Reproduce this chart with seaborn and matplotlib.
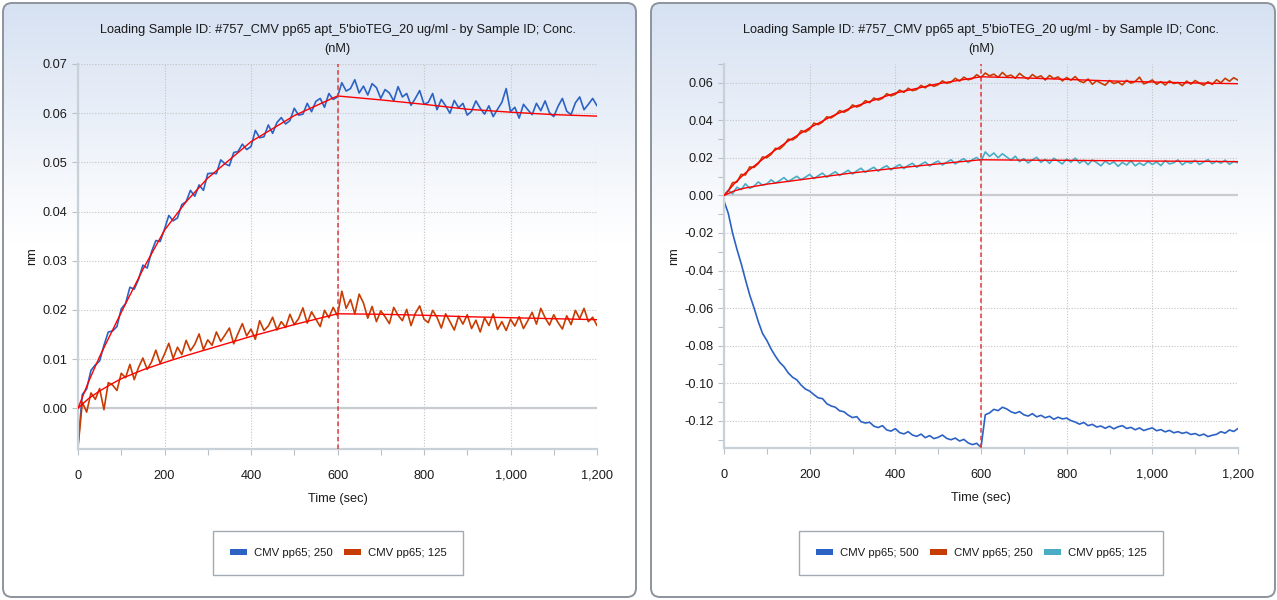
import numpy as np
import pandas as pd
import seaborn as sns
import matplotlib.pyplot as plt
from matplotlib.patches import FancyBboxPatch, Patch
from matplotlib.ticker import FuncFormatter, MultipleLocator

# %% data (10 s sampling)

time_s = list(range(0, 1201, 10))

# left panel
left_250 = [-0.0075, 0.0028, 0.0039, 0.0077, 0.0088, 0.0096, 0.0128, 0.0155, 0.0157, 0.0166,
            0.0202, 0.0213, 0.0246, 0.0242, 0.0262, 0.0291, 0.0285, 0.0318, 0.0341, 0.0339,
            0.0364, 0.0392, 0.0381, 0.0387, 0.0414, 0.0420, 0.0443, 0.0431, 0.0454, 0.0443,
            0.0477, 0.0478, 0.0477, 0.0505, 0.0497, 0.0493, 0.0520, 0.0522, 0.0537, 0.0526,
            0.0532, 0.0565, 0.0550, 0.0552, 0.0576, 0.0559, 0.0581, 0.0591, 0.0578, 0.0585,
            0.0610, 0.0596, 0.0598, 0.0620, 0.0603, 0.0624, 0.0630, 0.0612, 0.0640, 0.0628,
            0.0633, 0.0662, 0.0645, 0.0650, 0.0668, 0.0641, 0.0655, 0.0637, 0.0660, 0.0652,
            0.0630, 0.0648, 0.0641, 0.0625, 0.0654, 0.0633, 0.0640, 0.0616, 0.0630, 0.0646,
            0.0618, 0.0622, 0.0640, 0.0607, 0.0628, 0.0615, 0.0600, 0.0626, 0.0611, 0.0620,
            0.0596, 0.0604, 0.0625, 0.0610, 0.0598, 0.0615, 0.0593, 0.0608, 0.0622, 0.0650,
            0.0603, 0.0612, 0.0590, 0.0618, 0.0607, 0.0597, 0.0620, 0.0605, 0.0625, 0.0601,
            0.0593, 0.0614, 0.0630, 0.0604, 0.0597, 0.0621, 0.0633, 0.0607, 0.0618, 0.0630,
            0.0615]
left_125 = [-0.0080, 0.0012, -0.0008, 0.0031, 0.0018, 0.0040, -0.0003, 0.0052, 0.0047, 0.0036,
            0.0071, 0.0062, 0.0089, 0.0058, 0.0083, 0.0102, 0.0079, 0.0094, 0.0118, 0.0091,
            0.0110, 0.0132, 0.0101, 0.0124, 0.0109, 0.0138, 0.0117, 0.0130, 0.0151, 0.0119,
            0.0139, 0.0128, 0.0155, 0.0136, 0.0149, 0.0163, 0.0131, 0.0152, 0.0172, 0.0147,
            0.0161, 0.0140, 0.0178, 0.0158, 0.0167, 0.0185, 0.0159, 0.0176, 0.0164, 0.0191,
            0.0170, 0.0182, 0.0204, 0.0173, 0.0196, 0.0181, 0.0166, 0.0199, 0.0184, 0.0205,
            0.0188, 0.0238, 0.0203, 0.0221, 0.0192, 0.0232, 0.0214, 0.0183, 0.0207, 0.0176,
            0.0198, 0.0186, 0.0172, 0.0205, 0.0189, 0.0178, 0.0201, 0.0168, 0.0193, 0.0208,
            0.0181, 0.0174, 0.0199, 0.0185, 0.0163, 0.0192, 0.0176, 0.0159, 0.0187, 0.0171,
            0.0190, 0.0162, 0.0179, 0.0155, 0.0184, 0.0168, 0.0192, 0.0160, 0.0176, 0.0158,
            0.0181, 0.0167, 0.0186, 0.0162, 0.0178, 0.0195, 0.0171, 0.0203, 0.0184, 0.0169,
            0.0190, 0.0174, 0.0161, 0.0188, 0.0170, 0.0199, 0.0182, 0.0203, 0.0176, 0.0185,
            0.0168]

# right panel
right_500 = [-0.0030, -0.0095, -0.0200, -0.0285, -0.0362, -0.0448, -0.0530, -0.0598, -0.0672, -0.0735,
             -0.0772, -0.0818, -0.0856, -0.0889, -0.0912, -0.0945, -0.0968, -0.0982, -0.1010, -0.1031,
             -0.1042, -0.1061, -0.1078, -0.1082, -0.1109, -0.1121, -0.1128, -0.1147, -0.1152, -0.1170,
             -0.1183, -0.1178, -0.1205, -0.1212, -0.1208, -0.1229, -0.1236, -0.1226, -0.1249, -0.1255,
             -0.1242, -0.1263, -0.1270, -0.1258, -0.1276, -0.1283, -0.1271, -0.1290, -0.1279, -0.1295,
             -0.1288, -0.1276, -0.1294, -0.1301, -0.1292, -0.1308, -0.1299, -0.1318, -0.1327, -0.1320,
             -0.1342, -0.1168, -0.1158, -0.1139, -0.1146, -0.1128, -0.1137, -0.1152, -0.1160, -0.1151,
             -0.1168, -0.1175, -0.1162, -0.1179, -0.1171, -0.1184, -0.1176, -0.1192, -0.1181, -0.1190,
             -0.1186, -0.1199, -0.1207, -0.1218, -0.1209, -0.1226, -0.1219, -0.1233, -0.1228, -0.1240,
             -0.1229, -0.1243, -0.1232, -0.1226, -0.1241, -0.1235, -0.1248, -0.1238, -0.1252, -0.1244,
             -0.1238, -0.1253, -0.1247, -0.1259, -0.1251, -0.1264, -0.1258, -0.1267, -0.1261, -0.1273,
             -0.1268, -0.1279, -0.1271, -0.1284, -0.1277, -0.1272, -0.1258, -0.1266, -0.1249, -0.1257,
             -0.1241]
right_250 = [0.0000, 0.0024, 0.0068, 0.0071, 0.0112, 0.0109, 0.0152, 0.0149, 0.0170, 0.0205,
             0.0201, 0.0219, 0.0251, 0.0247, 0.0268, 0.0300, 0.0296, 0.0311, 0.0345, 0.0338,
             0.0352, 0.0385, 0.0377, 0.0391, 0.0419, 0.0413, 0.0428, 0.0452, 0.0443, 0.0455,
             0.0482, 0.0471, 0.0480, 0.0505, 0.0494, 0.0519, 0.0508, 0.0517, 0.0542, 0.0530,
             0.0539, 0.0561, 0.0549, 0.0571, 0.0558, 0.0564, 0.0586, 0.0573, 0.0592, 0.0581,
             0.0590, 0.0610, 0.0597, 0.0603, 0.0624, 0.0609, 0.0630, 0.0616, 0.0622, 0.0643,
             0.0628, 0.0652, 0.0637, 0.0646, 0.0629, 0.0655, 0.0634, 0.0641, 0.0624, 0.0650,
             0.0632, 0.0620, 0.0644, 0.0628, 0.0637, 0.0615, 0.0639, 0.0622, 0.0631, 0.0610,
             0.0628, 0.0614, 0.0633, 0.0609, 0.0601, 0.0620, 0.0592, 0.0611, 0.0598, 0.0587,
             0.0612, 0.0596, 0.0604, 0.0589, 0.0613, 0.0598, 0.0607, 0.0630, 0.0594, 0.0603,
             0.0615, 0.0592, 0.0606, 0.0588, 0.0610, 0.0596, 0.0601, 0.0584, 0.0609, 0.0593,
             0.0612, 0.0598, 0.0587, 0.0605, 0.0591, 0.0616, 0.0600, 0.0624, 0.0608, 0.0627,
             0.0614]
right_125 = [0.0000, 0.0028, 0.0009, 0.0044, 0.0031, 0.0062, 0.0038, 0.0049, 0.0072, 0.0055,
             0.0061, 0.0083, 0.0066, 0.0079, 0.0095, 0.0074, 0.0088, 0.0102, 0.0084, 0.0097,
             0.0112, 0.0090, 0.0105, 0.0119, 0.0097, 0.0113, 0.0126, 0.0106, 0.0120, 0.0134,
             0.0114, 0.0131, 0.0145, 0.0123, 0.0138, 0.0150, 0.0129, 0.0147, 0.0158, 0.0136,
             0.0152, 0.0164, 0.0143, 0.0160, 0.0171, 0.0150, 0.0166, 0.0178, 0.0157, 0.0172,
             0.0183, 0.0162, 0.0177, 0.0190, 0.0168, 0.0184, 0.0196, 0.0175, 0.0191, 0.0202,
             0.0183, 0.0232, 0.0208, 0.0226, 0.0201, 0.0222, 0.0205, 0.0188, 0.0209, 0.0180,
             0.0196, 0.0173, 0.0190, 0.0203, 0.0176, 0.0192, 0.0171, 0.0198, 0.0183, 0.0168,
             0.0194, 0.0177, 0.0199, 0.0172, 0.0187, 0.0164, 0.0189, 0.0175, 0.0158, 0.0183,
             0.0166, 0.0179, 0.0155, 0.0176, 0.0162, 0.0184, 0.0158, 0.0173, 0.0160, 0.0181,
             0.0165, 0.0178, 0.0159, 0.0186, 0.0168, 0.0174, 0.0189, 0.0163, 0.0180, 0.0171,
             0.0187, 0.0165, 0.0178, 0.0191, 0.0169, 0.0183, 0.0172, 0.0188, 0.0166, 0.0181,
             0.0174]

# fitted curves (red)
fit_t = [0, 25, 50, 75, 100, 150, 200, 250, 300, 400, 500, 600, 700, 800, 900, 1000, 1100, 1200]
fit_left_250 = [0.0, 0.0055, 0.0105, 0.0150, 0.0195, 0.0282, 0.0362, 0.0420, 0.0468, 0.0542,
                0.0595, 0.0635, 0.0627, 0.0618, 0.0608, 0.0602, 0.0597, 0.0594]
fit_left_125 = [0.0, 0.0020, 0.0035, 0.0048, 0.0060, 0.0078, 0.0093, 0.0107, 0.0120, 0.0146,
                0.0170, 0.0192, 0.0191, 0.0189, 0.0186, 0.0184, 0.0182, 0.0180]
fit_right_250 = [0.0, 0.0065, 0.0120, 0.0165, 0.0210, 0.0290, 0.0360, 0.0420, 0.0470, 0.0545,
                 0.0595, 0.0632, 0.0626, 0.0618, 0.0610, 0.0604, 0.0599, 0.0595]
fit_right_125 = [0.0, 0.0025, 0.0040, 0.0050, 0.0060, 0.0075, 0.0090, 0.0105, 0.0120, 0.0145,
                 0.0168, 0.0190, 0.0188, 0.0187, 0.0185, 0.0183, 0.0182, 0.0180]

title = "Loading Sample ID: #757_CMV pp65 apt_5'bioTEG_20 ug/ml - by Sample ID; Conc.\n(nM)"
blue, orange, cyan = '#2b62c4', '#c73c02', '#4bacc6'

# %% style
sns.set_theme(style='white')
plt.rcParams['font.family'] = 'Liberation Sans'

W, H = 1277, 600
fig = plt.figure(figsize=(W / 100, H / 100), dpi=100)

# panel backgrounds with a light blue gradient at the top
bg = fig.add_axes([0, 0, 1, 1], zorder=-5)
bg.set_xlim(0, W)
bg.set_ylim(H, 0)
bg.axis('off')
top = np.array([214, 225, 242]) / 255
k = np.clip(np.linspace(0, 1, 300) / 0.4, 0, 1)[:, None]
grad = (top * (1 - k) + np.ones(3) * k)[:, None, :]
for x0, x1 in [(3, 636), (651, 1275)]:
    box = FancyBboxPatch((x0, 3), x1 - x0, 594, boxstyle='round,pad=0,rounding_size=9',
                         fc='none', ec='#8d949c', lw=1.4, zorder=3)
    bg.add_patch(box)
    im = bg.imshow(grad, extent=[x0, x1, 597, 3], aspect='auto', zorder=1)
    im.set_clip_path(box)


def px_axes(x0, x1, y0, y1):
    return fig.add_axes([x0 / W, 1 - y1 / H, (x1 - x0) / W, (y1 - y0) / H])


def style_axes(ax, ylim, major, minor, legend_x, series):
    ax.set_facecolor('none')
    ax.set_xlim(0, 1200)
    ax.set_ylim(*ylim)
    ax.xaxis.set_major_locator(MultipleLocator(200))
    ax.xaxis.set_minor_locator(MultipleLocator(100))
    ax.xaxis.set_major_formatter(FuncFormatter(lambda v, p: f'{v:,.0f}'))
    ax.yaxis.set_major_locator(MultipleLocator(major))
    if minor:
        ax.yaxis.set_minor_locator(MultipleLocator(minor))
    ax.yaxis.set_major_formatter(FuncFormatter(lambda v, p: f'{v:.2f}'))
    ax.grid(True, which='major', ls=(0, (1, 1.5)), color='#c4c4c4', lw=0.8)
    ax.axhline(0, color='#c8ccd0', lw=1.6, zorder=1)
    ax.axvline(600, color='#e03a3a', ls=(0, (3, 2)), lw=1.1, zorder=4)
    for s in ['top', 'right']:
        ax.spines[s].set_visible(False)
    for s in ['left', 'bottom']:
        ax.spines[s].set_color('#c8d0d8')
        ax.spines[s].set_linewidth(1.6)
    ax.tick_params(which='both', direction='out', color='#b8c0c8', labelsize=9.2,
                   labelcolor='#1a1a1a', bottom=True, left=True, length=4, width=0.8)
    ax.tick_params(axis='x', which='major', pad=11)
    ax.set_title(title, fontsize=9.2, color='#1a1a1a', pad=8.5, linespacing=1.85)
    ax.set_xlabel('Time (sec)', fontsize=9.2, color='#1a1a1a', labelpad=8)
    ax.set_ylabel('nm', fontsize=9.2, color='#1a1a1a', labelpad=3)
    handles = [Patch(fc=c, ec='none', label=l) for l, c in series]
    fig.legend(handles=handles, loc='center', bbox_to_anchor=(legend_x / W, 1 - 553 / H),
               ncol=len(handles), frameon=True, fancybox=False, edgecolor='#8a96a4',
               fontsize=8.2, handlelength=1.5, handleheight=0.55, borderpad=1.45,
               columnspacing=1.0, handletextpad=0.6, labelcolor='#1a1a1a')


# %% left panel
ax1 = px_axes(78, 597, 64, 449)
left = pd.DataFrame({'time': time_s * 2, 'nm': left_250 + left_125,
                     'sample': ['CMV pp65; 250'] * len(time_s) + ['CMV pp65; 125'] * len(time_s)})
sns.lineplot(data=left, x='time', y='nm', hue='sample', estimator=None, sort=False,
             palette={'CMV pp65; 250': blue, 'CMV pp65; 125': orange}, lw=1.2,
             legend=False, ax=ax1, zorder=2)
sns.lineplot(x=fit_t, y=fit_left_250, color='red', lw=1.0, ax=ax1, zorder=3)
sns.lineplot(x=fit_t, y=fit_left_125, color='red', lw=1.0, ax=ax1, zorder=3)
style_axes(ax1, (-0.0083, 0.07), 0.01, None, 338,
           [('CMV pp65; 250', blue), ('CMV pp65; 125', orange)])

# %% right panel
ax2 = px_axes(724, 1238, 64, 448)
right = pd.DataFrame({'time': time_s * 3, 'nm': right_500 + right_250 + right_125,
                      'sample': ['CMV pp65; 500'] * len(time_s) + ['CMV pp65; 250'] * len(time_s)
                      + ['CMV pp65; 125'] * len(time_s)})
sns.lineplot(data=right, x='time', y='nm', hue='sample', estimator=None, sort=False,
             palette={'CMV pp65; 500': blue, 'CMV pp65; 250': orange, 'CMV pp65; 125': cyan},
             lw=1.2, legend=False, ax=ax2, zorder=2)
sns.lineplot(x=fit_t, y=fit_right_250, color='red', lw=1.0, ax=ax2, zorder=3)
sns.lineplot(x=fit_t, y=fit_right_125, color='red', lw=1.0, ax=ax2, zorder=3)
style_axes(ax2, (-0.1345, 0.07), 0.02, 0.01, 981,
           [('CMV pp65; 500', blue), ('CMV pp65; 250', orange), ('CMV pp65; 125', cyan)])

fig.savefig('out.png', dpi=100)
